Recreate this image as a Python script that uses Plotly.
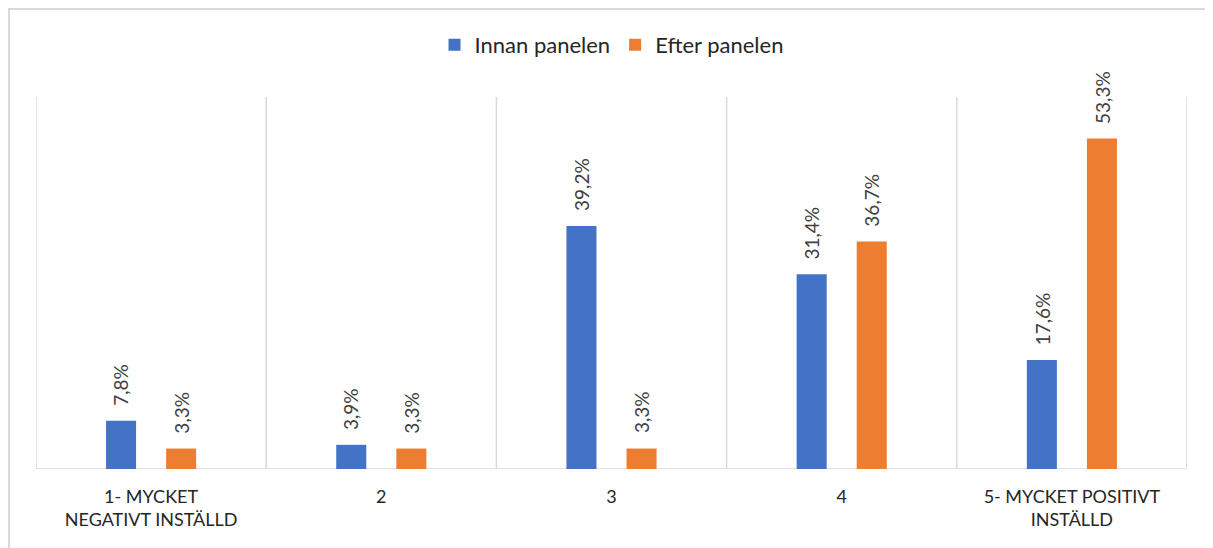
import plotly.graph_objects as go

categories = ["1- MYCKET<br>NEGATIVT INSTÄLLD", "2", "3", "4", "5- MYCKET POSITIVT<br>INSTÄLLD"]
innan = [7.8, 3.9, 39.2, 31.4, 17.6]
efter = [3.3, 3.3, 3.3, 36.7, 53.3]
series_names = ["Innan panelen", "Efter panelen"]
colors = ["#4472C4", "#ED7D31"]

OFF = 8  # page body margin
W, H = 1213 - OFF, 548 - OFF
L, R, T, B = 36 - OFF, 26, 97 - OFF, 79
pw = W - L - R
ph = H - T - B

fig = go.Figure()
for name, vals, col in zip(series_names, [innan, efter], colors):
    fig.add_trace(go.Bar(x=list(range(len(categories))), y=vals, name=name,
                         marker=dict(color=col, line=dict(width=0))))

font_family = "Lato, 'Noto Sans', sans-serif"
annotations = []
for vals, shift in [(innan, -30), (efter, 30)]:
    for i, v in enumerate(vals):
        annotations.append(dict(x=i, y=v, xref="x", yref="y", text=f"{v:.1f}%".replace(".", ","),
                                textangle=-90, showarrow=False, xanchor="center", yanchor="bottom",
                                xshift=shift, yshift=13,
                                font=dict(family=font_family, size=19, color="#404040")))

shapes = []
for k in range(len(categories) + 1):
    shapes.append(dict(type="line", xref="x", yref="y", x0=k - 0.5, x1=k - 0.5, y0=0, y1=60,
                       line=dict(color="#D9D9D9", width=1.5), layer="below"))
shapes.append(dict(type="line", xref="x", yref="y", x0=-0.5, x1=len(categories) - 0.5, y0=0, y1=0,
                   line=dict(color="#D9D9D9", width=1.5), layer="below"))
# chart border
shapes.append(dict(type="rect", xref="paper", yref="paper",
                   x0=(1 - L) / pw, x1=(W + 20 - L) / pw,
                   y0=(H - B - H - 20) / ph, y1=(H - B - 1) / ph,
                   line=dict(color="#D9D9D9", width=2), fillcolor="rgba(0,0,0,0)", layer="below"))

fig.update_layout(
    width=W, height=H,
    margin=dict(l=L, r=R, t=T, b=B),
    paper_bgcolor="white", plot_bgcolor="white",
    barmode="group", bargap=0.478, bargroupgap=0.5,
    showlegend=True,
    legend=dict(orientation="h", x=0.5, xanchor="center", y=(H - B - (45 - OFF)) / ph, yanchor="middle",
                font=dict(family=font_family, size=22, color="#262626"),
                itemwidth=30, tracegroupgap=0, bgcolor="rgba(0,0,0,0)"),
    xaxis=dict(tickmode="array", tickvals=list(range(len(categories))), ticktext=categories,
               range=[-0.5, len(categories) - 0.5], showgrid=False, zeroline=False, showline=False,
               ticks="", ticklabelstandoff=15,
               tickfont=dict(family=font_family, size=18, color="#262626")),
    yaxis=dict(range=[0, 60], showgrid=False, zeroline=False, showline=False, showticklabels=False),
    annotations=annotations,
    shapes=shapes,
    font=dict(family=font_family),
)

fig.write_html("out.html")
